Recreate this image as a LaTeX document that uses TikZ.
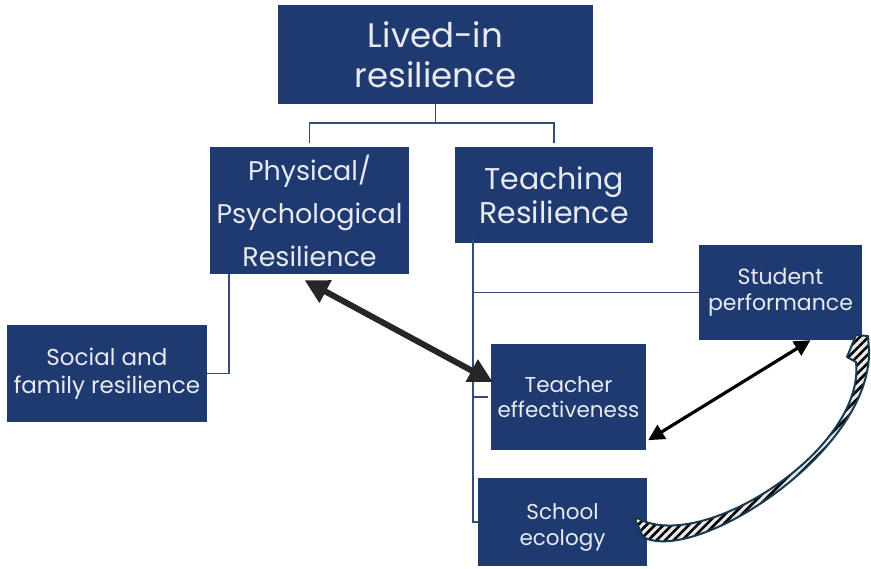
\documentclass[tikz,border=0pt]{standalone}
\usepackage{fontspec}
\setmainfont{Poppins}
\usetikzlibrary{arrows.meta,patterns.meta,calc}
\definecolor{boxblue}{RGB}{31,58,112}
\definecolor{boxtext}{RGB}{232,234,240}
\definecolor{linkblue}{RGB}{52,76,122}
\definecolor{arrowdark}{RGB}{38,38,38}
\definecolor{curveedge}{RGB}{22,58,80}
\tikzset{
  box/.style={draw=none,fill=boxblue,text=boxtext,align=center,inner sep=0pt,rectangle},
  link/.style={draw=linkblue,line width=1.5pt},
  fatarrow/.style={draw=arrowdark,line width=6pt,{Triangle[length=24pt,width=24pt]}-{Triangle[length=24pt,width=24pt]}},
  thinarrow/.style={draw=black,line width=3.2pt,{Triangle[length=16pt,width=16pt]}-{Triangle[length=16pt,width=16pt]}},
}
\begin{document}
\begin{tikzpicture}[x=1pt,y=-1pt]
\useasboundingbox (0,0) rectangle (871,569);
\node[box,minimum width=315pt,minimum height=99pt,font={\fontsize{34}{40}\selectfont}] (lived) at (435.5,54.5)
  {Lived-in\\resilience};
\node[box,minimum width=199pt,minimum height=127pt,font={\fontsize{27}{43}\selectfont}] (phys) at (309.5,210.5)
  {Physical/\\Psychological\\Resilience};
\node[box,minimum width=198pt,minimum height=96pt,font={\fontsize{30}{34}\selectfont}] (teach) at (554,195)
  {Teaching\\Resilience};
\node[box,minimum width=163pt,minimum height=95pt,font={\fontsize{22}{26}\selectfont}] (student) at (780.5,292.5)
  {Student\\performance};
\node[box,minimum width=200pt,minimum height=97pt,font={\fontsize{23}{28}\selectfont}] (social) at (107,373.5)
  {Social and\\family resilience};
\node[box,minimum width=155pt,minimum height=106pt,font={\fontsize{21.5}{25}\selectfont}] (teff) at (568.5,397)
  {Teacher\\effectiveness};
\node[box,minimum width=169pt,minimum height=88pt,font={\fontsize{21.5}{26}\selectfont}] (school) at (562.5,522)
  {\rule{0pt}{27pt}School\\ecology};
% tree connectors
\coordinate (fork) at ($(lived.south)+(0,19)$);
\draw[link] (lived.south) -- (fork);
\draw[link,shorten >=4pt] (fork) -| (phys.north);
\draw[link,shorten >=4pt] (fork) -| (teach.north);
\draw[link] ([xshift=-80.5pt]phys.south) |- (social.east);
\coordinate (trunk) at ([xshift=18pt,yshift=4pt]teach.south west);
\draw[link] (trunk) |- (school.west);
\draw[link] (student.west -| trunk) -- (student.west);
\draw[link] (teff.west -| trunk) -- ([xshift=-3pt]teff.west);
% arrows
\draw[fatarrow] ([shift={(-5,6)}]phys.south) -- ([shift={(2,-15)}]teff.west);
\draw[thinarrow] ([shift={(2,-10)}]teff.south east) -- ([xshift=30pt]student.south);
% curved hatched arrow
\path[fill=gray!18] (633,515) .. controls (692,560) and (866,452) .. (856,362)
  -- (847,357) -- (856,335) -- (868,336) -- (869,350)
  .. controls (872,452) and (695,565) .. (643,537) -- cycle;
\path[pattern={Lines[angle=45,distance=6pt,line width=2.6pt]},pattern color=black]
  (633,515) .. controls (692,560) and (866,452) .. (856,362)
  -- (847,357) -- (856,335) -- (868,336) -- (869,350)
  .. controls (872,452) and (695,565) .. (643,537) -- cycle;
\draw[curveedge,line width=2pt,line join=round]
  (633,515) .. controls (692,560) and (866,452) .. (856,362)
  -- (847,357) -- (856,335) -- (868,336) -- (869,350)
  .. controls (872,452) and (695,565) .. (643,537) -- cycle;
\end{tikzpicture}
\end{document}
